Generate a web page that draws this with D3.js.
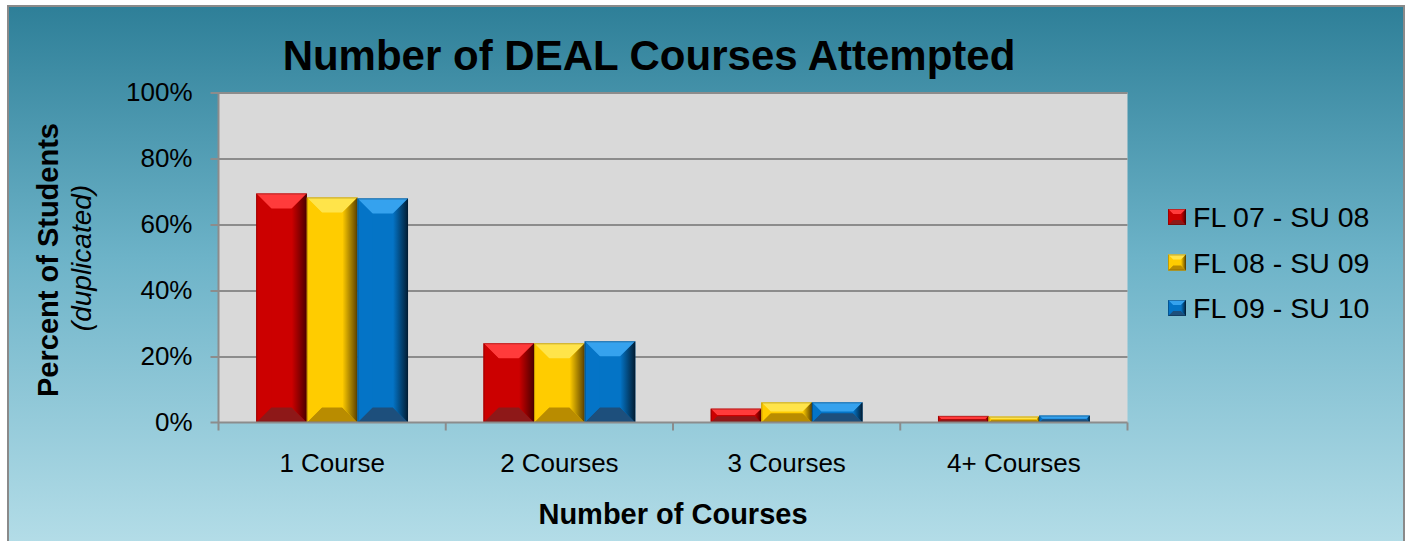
<!DOCTYPE html>
<html>
<head>
<meta charset="utf-8">
<script src="https://cdn.jsdelivr.net/npm/d3@7"></script>
<style>
  html, body { margin: 0; padding: 0; background: #fff; overflow: hidden; }
  text { font-family: "Liberation Sans", Arial, sans-serif; fill: #000; }
</style>
</head>
<body>
<svg id="chart" width="1410" height="541"></svg>
<script>
// chart data
const categories = ['1 Course', '2 Courses', '3 Courses', '4+ Courses'];
const seriesNames = ['FL 07 - SU 08', 'FL 08 - SU 09', 'FL 09 - SU 10'];
const fl07 = [69.4, 24.0, 4.2, 2.0];
const fl08 = [68.2, 24.0, 6.1, 1.8];
const fl09 = [67.9, 24.6, 6.1, 2.1];
const yTicks = [0, 20, 40, 60, 80, 100];

const seriesValues = [fl07, fl08, fl09];

// colours per series: base, highlight, shadow, dark edge
const palette = [
  { base: '#cc0000', light: '#ff3b3b', shade: '#8e1818', dark: '#4a0000' },
  { base: '#ffcc00', light: '#ffe44a', shade: '#b98c00', dark: '#5a4000' },
  { base: '#0474c6', light: '#35a2ee', shade: '#1d4f7c', dark: '#021d33' }
];

const svg = d3.select('#chart');
const defs = svg.append('defs');

const bg = defs.append('linearGradient')
  .attr('id', 'bg').attr('x1', 0).attr('y1', 0).attr('x2', 0).attr('y2', 1);
bg.append('stop').attr('offset', '0%').attr('stop-color', '#2e7f98');
bg.append('stop').attr('offset', '45%').attr('stop-color', '#6db3c8');
bg.append('stop').attr('offset', '100%').attr('stop-color', '#b9e0ea');

palette.forEach((p, i) => {
  const g = defs.append('linearGradient')
    .attr('id', 'edge' + i).attr('x1', 0).attr('y1', 0).attr('x2', 1).attr('y2', 0);
  g.append('stop').attr('offset', '0%').attr('stop-color', p.base);
  g.append('stop').attr('offset', '100%').attr('stop-color', p.dark);
});

// outer chart area
svg.append('rect')
  .attr('x', 8).attr('y', 6).attr('width', 1396).attr('height', 560)
  .attr('fill', 'url(#bg)')
  .attr('stroke', '#8a8a8a').attr('stroke-width', 2);

const plot = { left: 218.5, right: 1127.5, top: 92.5, bottom: 422.5 };

const y = d3.scaleLinear().domain([0, 100]).range([plot.bottom, plot.top]);
const x0 = d3.scaleBand().domain(categories).range([plot.left, plot.right])
  .paddingInner(0.332).paddingOuter(0.166);
const x1 = d3.scaleBand().domain(seriesNames).range([0, x0.bandwidth()]);

svg.append('rect')
  .attr('x', plot.left).attr('y', plot.top)
  .attr('width', plot.right - plot.left).attr('height', plot.bottom - plot.top)
  .attr('fill', '#d9d9d9');

// gridlines + y axis ticks
const yAxis = svg.append('g')
  .attr('transform', `translate(${plot.left},0)`)
  .call(d3.axisLeft(y).tickValues(yTicks).tickSize(8).tickSizeOuter(0).tickFormat(d => d + '%'));
yAxis.select('.domain').remove();
yAxis.selectAll('.tick line').attr('stroke', '#8c8c8c').attr('stroke-width', 2)
  .attr('x2', d => d === 0 ? -8 : plot.right - plot.left).attr('x1', -8);
yAxis.selectAll('.tick text')
  .attr('x', -26)
  .style('font-size', '26px')
  .style('font-family', '"Liberation Sans", Arial, sans-serif')
  .attr('fill', '#000');

// bevelled bars
function bevelBar(g, bx, by, w, h, i, maxB) {
  const p = palette[i];
  const b = Math.min(maxB, h / 2.2, w / 3);
  g.append('rect').attr('x', bx).attr('y', by).attr('width', w).attr('height', h).attr('fill', p.base);
  const poly = pts => g.append('polygon').attr('points', pts.map(q => q.join(',')).join(' '));
  poly([[bx, by], [bx + w, by], [bx + w - b, by + b], [bx + b, by + b]]).attr('fill', p.light);
  poly([[bx, by + h], [bx + w, by + h], [bx + w - b, by + h - b], [bx + b, by + h - b]]).attr('fill', p.shade);
  poly([[bx, by], [bx + b, by + b], [bx + b, by + h - b], [bx, by + h]]).attr('fill', p.base).attr('opacity', 0.9);
  poly([[bx + w, by], [bx + w - b, by + b], [bx + w - b, by + h - b], [bx + w, by + h]]).attr('fill', 'url(#edge' + i + ')');
  g.append('rect').attr('x', bx + 0.5).attr('y', by + 0.5).attr('width', w - 1).attr('height', h - 1)
    .attr('fill', 'none').attr('stroke', p.dark).attr('stroke-opacity', 0.35).attr('stroke-width', 1);
}

const bars = svg.append('g');
categories.forEach((c, ci) => {
  seriesNames.forEach((s, si) => {
    const v = seriesValues[si][ci];
    const bx = x0(c) + x1(s);
    const by = y(v);
    bevelBar(bars, bx, by, x1.bandwidth(), y(0) - by, si, 15);
  });
});

// axis lines
const axisColor = '#8c8c8c';
svg.append('line').attr('x1', plot.left).attr('x2', plot.left)
  .attr('y1', plot.top).attr('y2', plot.bottom + 8)
  .attr('stroke', axisColor).attr('stroke-width', 2);
svg.append('line').attr('x1', plot.left - 8).attr('x2', plot.right)
  .attr('y1', plot.bottom).attr('y2', plot.bottom)
  .attr('stroke', axisColor).attr('stroke-width', 2);

// category boundary ticks
const bounds = categories.map(c => x0(c) - x0.step() * x0.paddingInner() / 2).concat([plot.right]);
svg.append('g').selectAll('line').data(bounds.slice(1)).join('line')
  .attr('x1', d => d).attr('x2', d => d)
  .attr('y1', plot.bottom).attr('y2', plot.bottom + 8)
  .attr('stroke', axisColor).attr('stroke-width', 2);

const xAxis = svg.append('g')
  .attr('transform', `translate(0,${plot.bottom})`)
  .call(d3.axisBottom(x0).tickSize(0));
xAxis.select('.domain').remove();
xAxis.selectAll('.tick text')
  .attr('y', 49).attr('dy', 0)
  .style('font-size', '26px')
  .style('font-family', '"Liberation Sans", Arial, sans-serif')
  .attr('fill', '#000');

// titles
svg.append('text')
  .attr('x', 649).attr('y', 70)
  .attr('text-anchor', 'middle')
  .style('font-size', '42px').style('font-weight', 'bold')
  .text('Number of DEAL Courses Attempted');

svg.append('text')
  .attr('x', 673).attr('y', 524)
  .attr('text-anchor', 'middle')
  .style('font-size', '29px').style('font-weight', 'bold')
  .text('Number of Courses');

svg.append('text')
  .attr('transform', 'translate(58,260) rotate(-90)')
  .attr('text-anchor', 'middle')
  .style('font-size', '29px').style('font-weight', 'bold')
  .text('Percent of Students');

svg.append('text')
  .attr('transform', 'translate(91,258) rotate(-90)')
  .attr('text-anchor', 'middle')
  .style('font-size', '28px').style('font-style', 'italic')
  .text('(duplicated)');

// legend
const legend = svg.append('g');
seriesNames.forEach((s, i) => {
  const ly = 227 + i * 45.5;
  bevelBar(legend, 1168, ly - 18, 18, 16, i, 5);
  legend.append('text')
    .attr('x', 1193).attr('y', ly)
    .style('font-size', '28.5px')
    .text(s);
});
</script>
</body>
</html>
